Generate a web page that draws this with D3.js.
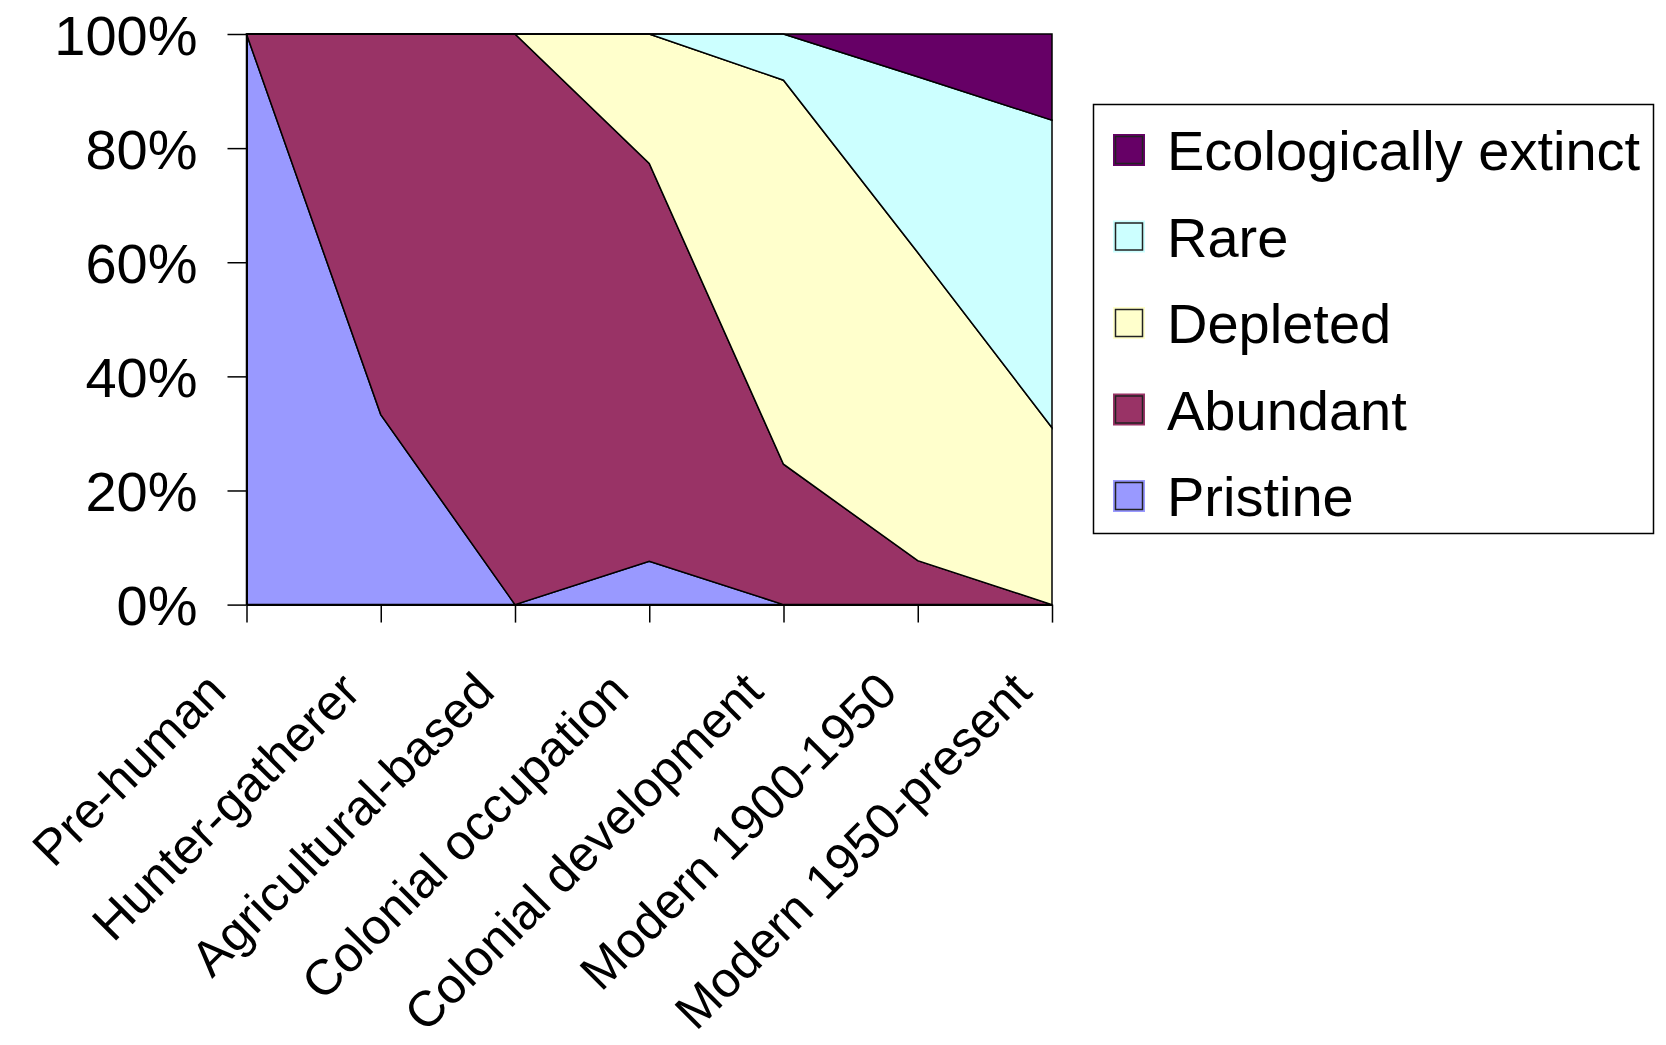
<!DOCTYPE html>
<html>
<head>
<meta charset="utf-8">
<script src="https://cdn.jsdelivr.net/npm/d3@7"></script>
<style>
  html, body { margin: 0; padding: 0; background: #fff; }
  svg { display: block; }
  text { font-family: "Liberation Sans", Arial, sans-serif; fill: #000; }
</style>
</head>
<body>
<svg id="chart" width="1666" height="1045"></svg>
<script>
// Historical periods along the x axis
const categories = [
  "Pre-human",
  "Hunter-gatherer",
  "Agricultural-based",
  "Colonial occupation",
  "Colonial development",
  "Modern 1900-1950",
  "Modern 1950-present"
];

// Share of each ecological status per period (percent), stacked bottom to top
const pristine  = [100, 33.3,   0,  7.6,  0,    0,    0];
const abundant  = [  0, 66.7, 100, 69.7, 24.6,  7.7,  0];
const depleted  = [  0,  0,     0, 22.7, 67.3, 54.0, 31.0];
const rare      = [  0,  0,     0,  0,    8.1, 30.8, 53.9];
const extinct   = [  0,  0,     0,  0,    0,    7.5, 15.1];

const seriesNames  = ["Pristine", "Abundant", "Depleted", "Rare", "Ecologically extinct"];
const seriesValues = [pristine, abundant, depleted, rare, extinct];
const seriesColors = ["#9999FF", "#993366", "#FFFFCC", "#CCFFFF", "#660066"];

const yTicks = [0, 20, 40, 60, 80, 100];
const yTickLabels = ["0%", "20%", "40%", "60%", "80%", "100%"];

// Table for d3.stack
const rows = categories.map((c, i) => {
  const r = { category: c };
  seriesNames.forEach((n, k) => { r[n] = seriesValues[k][i]; });
  return r;
});

const svg = d3.select("#chart");
const plot = { left: 246.5, right: 1052, top: 34, bottom: 604.6 };

const x = d3.scalePoint().domain(categories).range([plot.left, plot.right]);
const y = d3.scaleLinear().domain([0, 100]).range([plot.bottom, plot.top]);

const stack = d3.stack().keys(seriesNames);
const layers = stack(rows);

const area = d3.area()
  .x(d => x(d.data.category))
  .y0(d => y(d[0]))
  .y1(d => y(d[1]));

// Stacked areas, each outlined in black
svg.append("g")
  .selectAll("path")
  .data(layers)
  .join("path")
  .attr("d", area)
  .attr("fill", (d, i) => seriesColors[i])
  .attr("stroke", "#000")
  .attr("stroke-width", 1.5)
  .attr("stroke-linejoin", "miter");

// Y axis
const yAxis = svg.append("g")
  .attr("transform", `translate(${plot.left},0)`)
  .call(d3.axisLeft(y).tickValues(yTicks).tickFormat((d, i) => yTickLabels[i])
    .tickSize(19).tickSizeOuter(0).tickPadding(30));
yAxis.select(".domain").attr("stroke", "#000").attr("stroke-width", 2);
yAxis.selectAll(".tick line").attr("stroke", "#000").attr("stroke-width", 1.5);
yAxis.selectAll(".tick text")
  .attr("font-size", 56)
  .attr("font-family", "Liberation Sans, Arial, sans-serif")
  .attr("fill", "#000")
  .attr("dy", "0.36em");

// X axis
const xAxis = svg.append("g")
  .attr("transform", `translate(0,${plot.bottom})`)
  .call(d3.axisBottom(x).tickSize(18).tickSizeOuter(0).tickFormat(""));
xAxis.select(".domain").attr("stroke", "#000").attr("stroke-width", 2);
xAxis.selectAll(".tick line").attr("stroke", "#000").attr("stroke-width", 1.5);

// Rotated category labels
svg.append("g")
  .selectAll("text")
  .data(categories)
  .join("text")
  .attr("transform", d => `translate(${x(d) - 18},694) rotate(-45)`)
  .attr("text-anchor", "end")
  .attr("font-size", 50)
  .text(d => d);

// Legend (top series listed first)
const legend = svg.append("g");
legend.append("rect")
  .attr("x", 1093.5).attr("y", 104.5)
  .attr("width", 560).attr("height", 429)
  .attr("fill", "#fff").attr("stroke", "#000").attr("stroke-width", 1.5);

const legendOrder = seriesNames.map((n, i) => i).reverse();
const rowY = d3.scalePoint().domain(legendOrder).range([150, 496]);

const item = legend.selectAll("g.item")
  .data(legendOrder)
  .join("g")
  .attr("class", "item")
  .attr("transform", i => `translate(1113,${rowY(i)})`);

item.append("rect")
  .attr("x", 0).attr("y", -16).attr("width", 32).attr("height", 32)
  .attr("fill", i => seriesColors[i]);
item.append("rect")
  .attr("x", 2.5).attr("y", -13.5).attr("width", 27).attr("height", 27)
  .attr("fill", i => seriesColors[i])
  .attr("stroke", "#222").attr("stroke-width", 1.5);
item.append("text")
  .attr("x", 54).attr("y", 0).attr("dy", "0.36em")
  .attr("font-size", 56)
  .text(i => seriesNames[i]);
</script>
</body>
</html>
